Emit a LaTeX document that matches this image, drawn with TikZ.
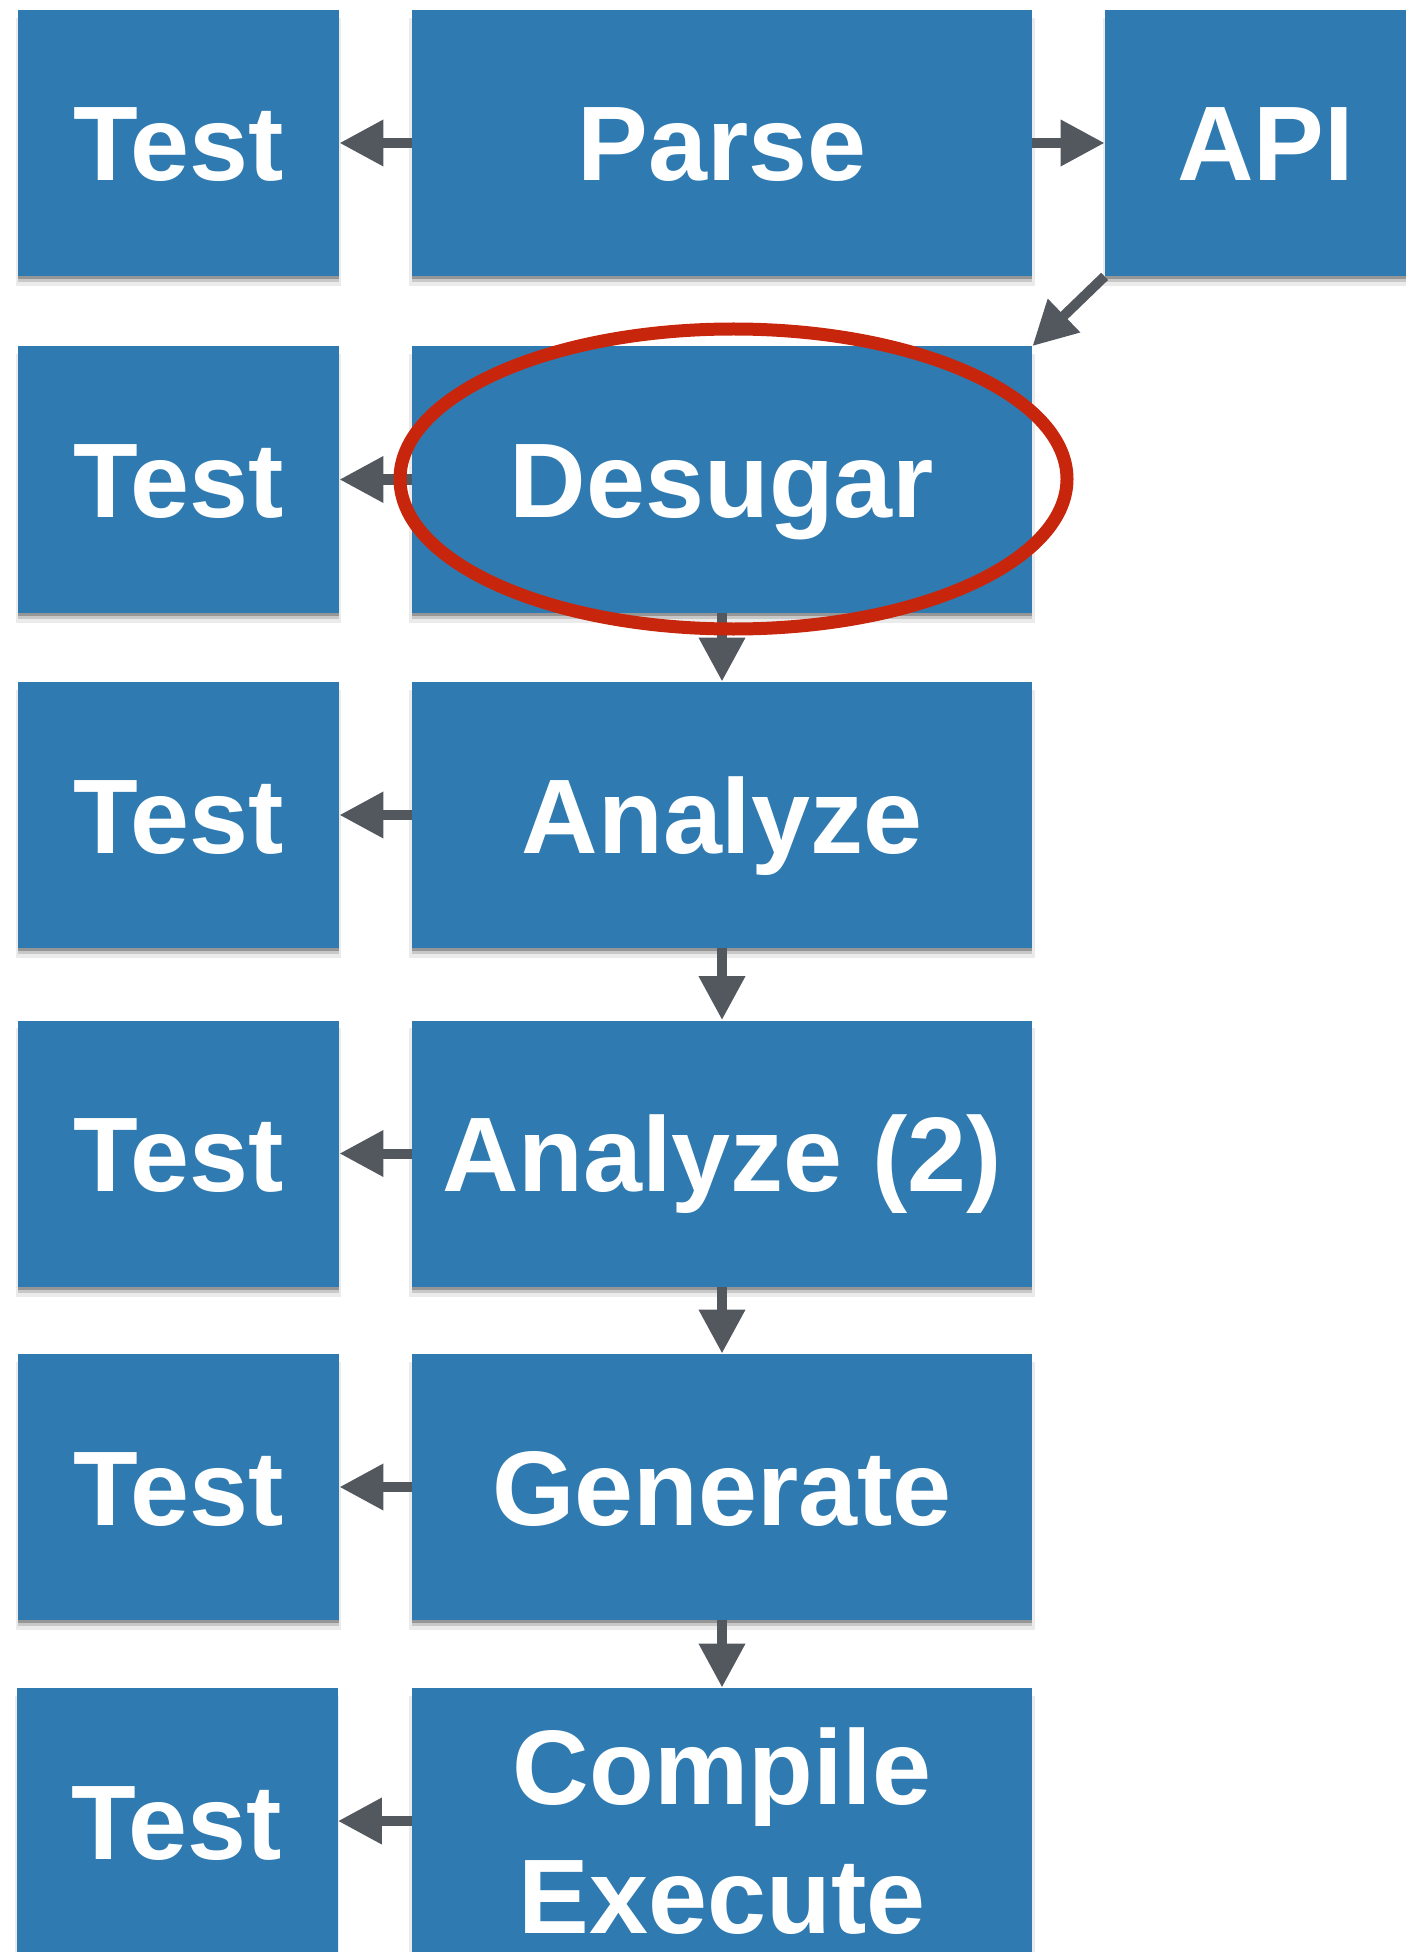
\documentclass[tikz,border=0pt]{standalone}
\usepackage{fontspec}
\setmainfont{Liberation Sans}
\usetikzlibrary{arrows.meta, shadows}
\definecolor{stblue}{HTML}{2F7BB1}
\definecolor{stgray}{HTML}{53585F}
\definecolor{stred}{HTML}{C8260C}

\begin{document}
\begin{tikzpicture}[
  x=0.5pt, y=-0.5pt,
  every node/.style={font=\fontsize{53}{62}\selectfont\bfseries},
  softshadow/.style={
    drop shadow={shadow xshift=0pt, shadow yshift=-4.5pt, shadow scale=1.01, fill=black, opacity=0.08},
    drop shadow={shadow xshift=0pt, shadow yshift=-3pt, fill=black, opacity=0.15},
    drop shadow={shadow xshift=0pt, shadow yshift=-1.5pt, fill=black, opacity=0.25}},
  stage/.style={rectangle, fill=stblue, text=white, minimum height=133pt, align=center, inner sep=0pt,
    text height=38pt, text depth=0pt, softshadow},
  testbox/.style={stage, minimum width=160.5pt},
  passbox/.style={stage, minimum width=310pt},
  flow/.style={draw=stgray, line width=5pt, -{Triangle[length=22pt, width=22pt]}},
  highlight/.style={draw=stred, line width=6.5pt},
]
\useasboundingbox (0,0) rectangle (1405,1952);

% Compiler passes
\node[passbox] (parse) at (722, 143) {Parse};
\node[passbox] (desugar) at (722, 479.5) {Desugar};
\node[passbox] (analyze) at (722, 815) {Analyze};
\node[passbox] (analyzeii) at (722, 1153.5) {Analyze (2)};
\node[passbox] (generate) at (722, 1487) {Generate};
\node[passbox, font=\fontsize{53}{64.5}\selectfont\bfseries, text height=112pt, text depth=0pt] (compile) at (722, 1821) {Compile\\Execute};
\node[testbox] (api) at (1265.5, 143) {API};

% Tests
\node[testbox] (t1) at (178.5, 143) {Test};
\node[testbox] (t2) at (178.5, 479.5) {Test};
\node[testbox] (t3) at (178.5, 815) {Test};
\node[testbox] (t4) at (178.5, 1153.5) {Test};
\node[testbox] (t5) at (178.5, 1487) {Test};
\node[testbox] (t6) at (177, 1821) {Test};

% Pipeline
\draw[flow] (parse) -- (api);
\draw[flow] (api.south west) -- (desugar.north east);
\draw[flow] (desugar) -- (analyze);
\draw[flow] (analyze) -- (analyzeii);
\draw[flow] (analyzeii) -- (generate);
\draw[flow] (generate) -- (compile);

% Test hooks
\foreach \p/\t in {parse/t1, desugar/t2, analyze/t3, analyzeii/t4, generate/t5, compile/t6}
  \draw[flow] (\p) -- (\t);

% Highlight
\draw[highlight] (733.5, 479) ellipse [x radius=166.75pt, y radius=75pt];

\end{tikzpicture}
\end{document}
